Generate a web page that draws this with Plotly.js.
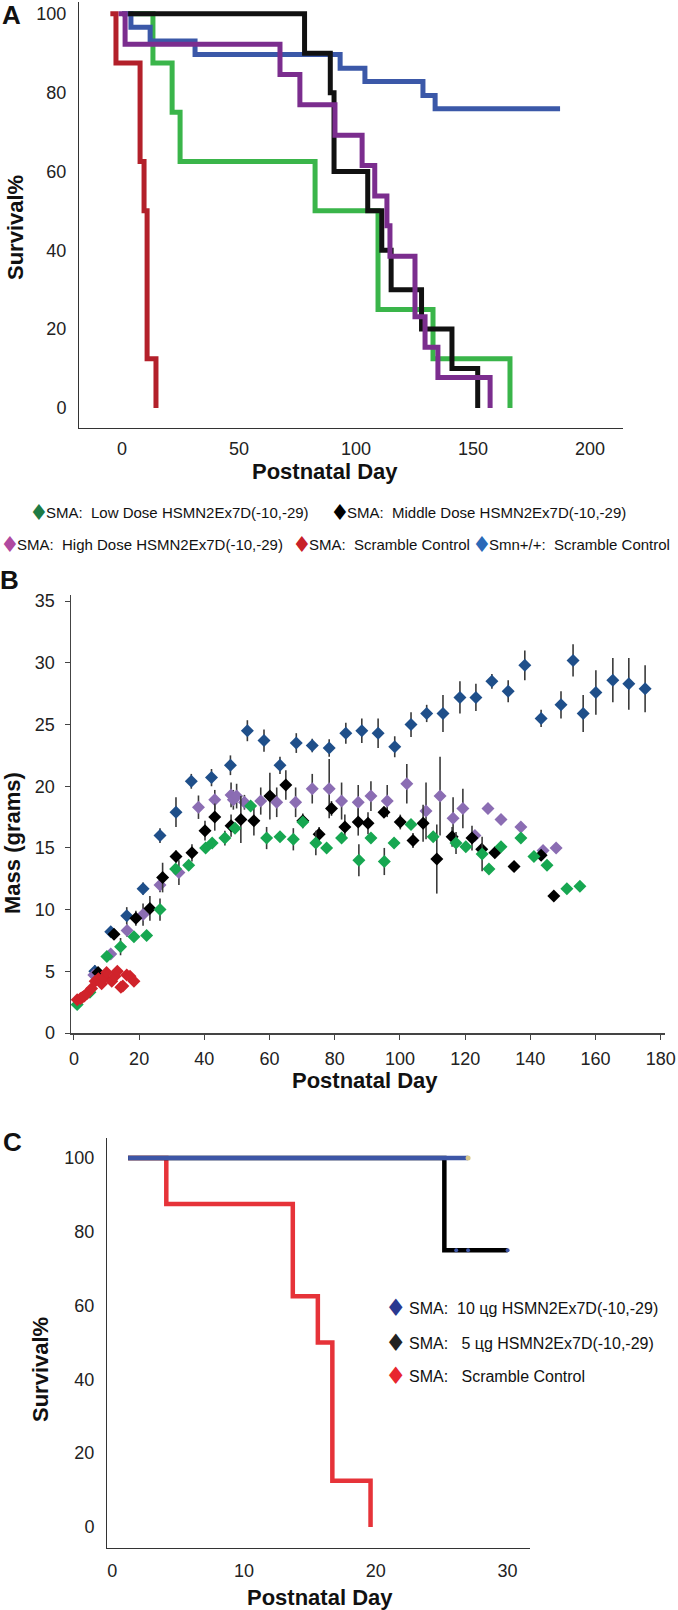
<!DOCTYPE html>
<html>
<head>
<meta charset="utf-8">
<script src="https://cdn.plot.ly/plotly-3.0.1.min.js"></script>
<style>
  body { margin: 0; background: #fff; }
  #plot { width: 678px; height: 1610px; }
</style>
</head>
<body>
<div id="plot"></div>
<script>
// ---- Panel A: survival (step curves), days and survival %
var aLowDays = [0, 13.2, 21.4, 24.8, 82.5, 109.4, 132.9, 165.8];
var aLowSurv = [100, 87.5, 75, 62.5, 50, 25, 12.5, 0];
var aWildDays = [0, 3.8, 12, 31.2, 93.2, 103.8, 128.6, 133.8, 187.2];
var aWildSurv = [100, 96.6, 93.1, 89.7, 86.2, 82.8, 79.3, 75.9, 75.9];
var aMidDays = [2.6, 78, 89, 90.6, 105, 111, 115, 128, 141, 152];
var aMidSurv = [100, 90, 80, 60, 50, 40, 30, 20, 10, 0];
var aHighDays = [-1.5, 1.3, 67.5, 76, 91, 102.6, 108, 113.2, 114.5, 125.2, 129.5, 135, 157.3];
var aHighSurv = [100, 92.3, 84.6, 76.9, 69.2, 61.5, 53.8, 46.2, 38.5, 23.1, 15.4, 7.7, 0];
var aScrDays = [-5, -2.6, 7.7, 9.4, 10.7, 14.5];
var aScrSurv = [100, 87.5, 62.5, 50, 12.5, 0];

// ---- Panel B: body mass (g) with error bars
var bWildDays = [6.4, 11.3, 16.2, 21.2, 26.4, 31.3, 36.0, 42.2, 48.0, 53.2, 58.3, 63.2, 68.2, 73.1, 78.3, 83.4, 88.3, 93.3, 98.4, 103.4, 108.2, 113.2, 118.4, 123.3, 128.2, 133.2, 138.3, 143.3, 149.4, 153.1, 156.2, 160.1, 165.3, 170.2, 175.2];
var bWildMass = [5.0, 8.2, 9.5, 11.7, 16.0, 17.9, 20.4, 20.7, 21.7, 24.5, 23.7, 21.7, 23.5, 23.3, 23.1, 24.3, 24.5, 24.3, 23.2, 25.0, 25.9, 25.9, 27.2, 27.2, 28.5, 27.7, 29.8, 25.5, 26.6, 30.2, 25.9, 27.6, 28.6, 28.3, 27.9];
var bWildErr = [0.5, 0.4, 0.7, 0.5, 0.6, 1.2, 0.6, 0.7, 0.8, 0.85, 0.9, 0.7, 0.8, 0.55, 0.7, 0.85, 1.0, 1.2, 0.85, 1.0, 0.7, 1.5, 1.3, 1.1, 0.6, 0.9, 1.2, 0.7, 1.1, 1.3, 1.5, 1.8, 1.8, 2.1, 1.9];

var bHighDays = [6.1, 11.3, 16.3, 21.2, 26.4, 32.2, 38.2, 43.2, 48.2, 48.9, 49.9, 52.3, 57.3, 62.2, 68.0, 73.1, 78.3, 82.1, 87.2, 91.1, 96.1, 102.1, 108.0, 112.3, 116.3, 119.3, 123.0, 127.0, 131.0, 137.1, 143.9, 147.9];
var bHighMass = [4.7, 6.4, 8.3, 9.6, 12.0, 13.0, 18.3, 18.9, 19.3, 18.9, 19.2, 18.7, 18.8, 18.7, 18.7, 19.8, 19.8, 18.8, 18.7, 19.2, 18.8, 20.2, 18.0, 19.2, 17.4, 18.2, 16.0, 18.2, 17.3, 16.7, 14.8, 15.0];
var bHighErr = [0.3, 0.3, 0.5, 0.9, 0.6, 1.0, 0.95, 0.8, 1.0, 0.8, 1.0, 0.6, 1.1, 1.2, 1.2, 1.2, 2.4, 1.5, 1.4, 1.2, 1.3, 1.6, 2.3, 3.2, 1.7, 1.6, 0, 0, 0, 0, 0, 0];

var bMidDays = [7.4, 12.3, 19.0, 23.3, 27.2, 31.3, 36.2, 40.2, 43.2, 48.2, 51.2, 55.2, 60.1, 65.0, 70.2, 75.2, 79.0, 83.1, 87.2, 90.2, 95.1, 100.1, 104.0, 107.1, 111.3, 116.0, 122.1, 125.1, 129.1, 135.0, 143.3, 147.2];
var bMidMass = [4.9, 8.0, 9.3, 10.1, 12.6, 14.3, 14.6, 16.4, 17.5, 16.8, 17.3, 17.2, 19.2, 20.1, 17.2, 16.1, 18.2, 16.7, 17.1, 17.0, 17.9, 17.1, 15.6, 17.0, 14.1, 15.9, 15.8, 14.9, 14.6, 13.5, 14.4, 11.1];
var bMidErr = [0.4, 0.4, 0.6, 1.0, 1.2, 0.5, 0.7, 0.8, 1.1, 0.9, 1.9, 1.2, 1.9, 1.2, 0.6, 0.6, 0.6, 1.0, 1.1, 0.9, 0, 0.6, 0.6, 1.5, 2.8, 0.8, 1.0, 0, 0, 0, 0, 0];

var bLowDays = [1.0, 4.9, 10.1, 14.3, 18.4, 22.3, 26.4, 31.2, 35.2, 40.4, 42.4, 46.3, 49.4, 54.2, 59.1, 63.2, 67.3, 70.2, 74.2, 77.5, 82.1, 87.4, 91.1, 95.2, 98.2, 103.4, 110.2, 117.2, 120.2, 125.2, 127.3, 131.0, 137.1, 141.1, 145.1, 151.2, 155.2];
var bLowMass = [2.3, 3.3, 6.2, 7.0, 7.8, 7.9, 10.0, 13.3, 13.6, 15.0, 15.4, 15.8, 16.6, 18.4, 15.8, 15.9, 15.7, 17.1, 15.4, 15.0, 15.8, 14.0, 15.8, 13.9, 15.4, 16.9, 15.9, 15.4, 15.1, 14.5, 13.3, 15.1, 15.8, 14.3, 13.6, 11.7, 11.9];
var bLowErr = [0, 0, 0.3, 0.7, 0.3, 0, 0.9, 0, 0, 0, 0, 0.6, 0, 0, 0.9, 0, 0.9, 0, 1.0, 0, 0, 1.3, 0, 1.1, 0, 0, 0, 0.9, 0, 1.4, 0, 0, 0, 0, 0, 0, 0];

var bScrDays = [1, 2, 2.6, 3.2, 4, 5.4, 6.5, 7.5, 8.5, 9.2, 10, 11.6, 12.6, 13.3, 14.4, 15, 16.2, 17.2, 18.4];
var bScrMass = [2.7, 2.8, 2.9, 3.0, 3.2, 3.6, 4.2, 4.4, 4.0, 4.5, 4.9, 4.2, 4.6, 5.0, 3.7, 3.8, 4.7, 4.6, 4.2];

// ---- Panel C: survival, low-dose study
var cScrDays = [1.2, 4.1, 13.7, 15.6, 16.7, 19.6];
var cScrSurv = [100, 87.5, 62.5, 50, 12.5, 0];
var c5Days = [1.2, 25.2, 30];
var c5Surv = [100, 75, 75];
var c10Days = [1.2, 27];
var c10Surv = [100, 100];
var cCensorDays = [26.1, 27, 30];
var cCensorSurv = [75, 75, 75];

var legendA = [
  ['#1e7b45', 'SMA:\u00a0\u00a0Low Dose HSMN2Ex7D(-10,-29)'],
  ['#000000', 'SMA:\u00a0\u00a0Middle Dose HSMN2Ex7D(-10,-29)'],
  ['#b04aa0', 'SMA:\u00a0\u00a0High Dose HSMN2Ex7D(-10,-29)'],
  ['#c8202a', 'SMA:\u00a0\u00a0Scramble Control'],
  ['#2a6ab8', 'Smn+/+:\u00a0\u00a0Scramble Control']
];
var legendC = [
  ['#2b3990', 'SMA:\u00a0\u00a010 цg HSMN2Ex7D(-10,-29)'],
  ['#222222', 'SMA:\u00a0\u00a0\u00a05 цg HSMN2Ex7D(-10,-29)'],
  ['#e8262f', 'SMA:\u00a0\u00a0\u00a0Scramble Control']
];

var W = 678, H = 1610;
function px(x) { return x / W; }
function py(y) { return 1 - y / H; }

function step(x, y, color, xa, ya, w) {
  return {x: x, y: y, mode: 'lines', line: {shape: 'hv', color: color, width: w},
          xaxis: xa, yaxis: ya, showlegend: false, hoverinfo: 'skip'};
}
function pts(x, y, err, color) {
  var t = {x: x, y: y, mode: 'markers', xaxis: 'x2', yaxis: 'y2', showlegend: false,
           marker: {symbol: 'diamond', size: 10, color: color, line: {width: 0}}};
  if (err) t.error_y = {type: 'data', array: err, visible: true, color: '#3a3a3a', thickness: 1.6, width: 0};
  return t;
}

var data = [
  step(aLowDays, aLowSurv, '#3ab54a', 'x', 'y', 5),
  step(aWildDays, aWildSurv, '#3b58a8', 'x', 'y', 5),
  step(aMidDays, aMidSurv, '#111111', 'x', 'y', 5),
  step(aHighDays, aHighSurv, '#7b2d8e', 'x', 'y', 5),
  step(aScrDays, aScrSurv, '#b3202a', 'x', 'y', 5),

  pts(bWildDays, bWildMass, bWildErr, '#1f4f8a'),
  pts(bHighDays, bHighMass, bHighErr, '#8b6db3'),
  pts(bMidDays, bMidMass, bMidErr, '#000000'),
  pts(bLowDays, bLowMass, bLowErr, '#17a751'),
  pts(bScrDays, bScrMass, null, '#d0232b'),

  step(cScrDays, cScrSurv, '#e63339', 'x3', 'y3', 4.5),
  step(c5Days, c5Surv, '#000000', 'x3', 'y3', 4.5),
  step(c10Days, c10Surv, '#3d56a6', 'x3', 'y3', 4.5),
  {x: cCensorDays, y: cCensorSurv, mode: 'markers', xaxis: 'x3', yaxis: 'y3', showlegend: false,
   marker: {size: 4, color: '#3d56a6'}},
  {x: [c10Days[1]], y: [c10Surv[1]], mode: 'markers', xaxis: 'x3', yaxis: 'y3', showlegend: false,
   marker: {size: 5, color: '#d8c98c'}}
];

var tickFont = {family: 'Liberation Sans, Arial, sans-serif', size: 18, color: '#222'};

var layout = {
  width: W, height: H,
  margin: {l: 0, r: 0, t: 0, b: 0},
  paper_bgcolor: '#fff', plot_bgcolor: '#fff',
  hovermode: false,
  xaxis: {domain: [px(79), px(623)], range: [-18.4, 214.1], anchor: 'y',
          tickvals: [0, 50, 100, 150, 200], ticks: '', showgrid: false, zeroline: false,
          showline: true, linecolor: '#333', linewidth: 1, tickfont: tickFont, ticklabelstandoff: 4},
  yaxis: {domain: [py(428), py(2)], range: [-5.1, 103], anchor: 'x',
          tickvals: [0, 20, 40, 60, 80, 100], ticks: '', showgrid: false, zeroline: false,
          showline: true, linecolor: '#333', linewidth: 1, tickfont: tickFont, ticklabelstandoff: 8},
  xaxis2: {domain: [px(71), px(665)], range: [-0.9, 181.3], anchor: 'y2',
           tickvals: [0, 20, 40, 60, 80, 100, 120, 140, 160, 180], ticks: 'outside', ticklen: 5,
           tickcolor: '#444', showgrid: false, zeroline: false,
           showline: true, linecolor: '#444', linewidth: 1.5, tickfont: tickFont, ticklabelstandoff: 4},
  yaxis2: {domain: [py(1033), py(595)], range: [0, 35.5], anchor: 'x2',
           tickvals: [0, 5, 10, 15, 20, 25, 30, 35], ticks: 'outside', ticklen: 5,
           tickcolor: '#444', showgrid: false, zeroline: false,
           showline: true, linecolor: '#444', linewidth: 1.5, tickfont: tickFont, ticklabelstandoff: 6},
  xaxis3: {domain: [px(107), px(530)], range: [-0.4, 31.7], anchor: 'y3',
           tickvals: [0, 10, 20, 30], ticks: '', showgrid: false, zeroline: false,
           showline: true, linecolor: '#333', linewidth: 1, tickfont: tickFont, ticklabelstandoff: 6},
  yaxis3: {domain: [py(1548), py(1138)], range: [-5.7, 105.4], anchor: 'x3',
           tickvals: [0, 20, 40, 60, 80, 100], ticks: '', showgrid: false, zeroline: false,
           showline: true, linecolor: '#333', linewidth: 1, tickfont: tickFont, ticklabelstandoff: 8},
  annotations: []
};

function label(text, x, y, size, angle) {
  layout.annotations.push({text: '<b>' + text + '</b>', x: px(x), y: py(y), xref: 'paper', yref: 'paper',
    xanchor: 'center', yanchor: 'middle', showarrow: false, textangle: angle || 0,
    font: {family: 'Liberation Sans, Arial, sans-serif', size: size, color: '#111'}});
}
label('A', 11, 15, 26);
label('B', 9, 580, 26);
label('C', 12, 1142, 26);
label('Postnatal Day', 325, 471, 22);
label('Survival%', 15, 228, 22, -90);
label('Postnatal Day', 365, 1080, 22);
label('Mass (grams)', 12, 843, 22, -90);
label('Postnatal Day', 320, 1597, 22);
label('Survival%', 40, 1370, 22, -90);

// legend: a diamond glyph and its text, placed side by side
function legendItem(item, dx, tx, y, size, dsize) {
  layout.annotations.push({text: '\u2666', x: px(dx), y: py(y), xref: 'paper', yref: 'paper',
    xanchor: 'center', yanchor: 'middle', showarrow: false,
    font: {family: 'DejaVu Sans, sans-serif', size: dsize, color: item[0]}});
  layout.annotations.push({text: item[1], x: px(tx), y: py(y), xref: 'paper', yref: 'paper',
    xanchor: 'left', yanchor: 'middle', showarrow: false,
    font: {family: 'Liberation Sans, Arial, sans-serif', size: size, color: '#111'}});
}
legendItem(legendA[0], 39, 44, 512, 15, 22);
legendItem(legendA[1], 340, 345, 512, 15, 22);
legendItem(legendA[2], 10, 15, 545, 15, 22);
legendItem(legendA[3], 302, 307, 545, 15, 22);
legendItem(legendA[4], 482, 487, 545, 15, 22);
legendItem(legendC[0], 396, 407, 1308, 16, 24);
legendItem(legendC[1], 396, 407, 1343, 16, 24);
legendItem(legendC[2], 396, 407, 1376, 16, 24);

Plotly.newPlot('plot', data, layout, {staticPlot: true});
</script>
</body>
</html>
